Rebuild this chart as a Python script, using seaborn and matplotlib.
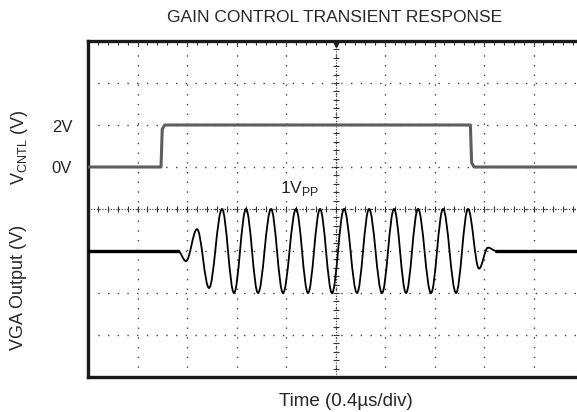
import numpy as np
import pandas as pd
import matplotlib
matplotlib.use('Agg')
import matplotlib.pyplot as plt
from matplotlib.path import Path
from matplotlib.patches import PathPatch
import seaborn as sns

# scope traces (time in us, level in volts)
vcntl_t = [0.0, 0.59, 0.60, 0.62, 3.09, 3.10, 3.12, 4.0]
vcntl_v = [0.0, 0.0, 1.80, 2.0, 2.0, 0.20, 0.0, 0.0]

vga_t = [0.727, 0.792, 0.881, 0.978, 1.083, 1.180, 1.277, 1.374, 1.479, 1.576,
         1.681, 1.778, 1.875, 1.972, 2.069, 2.174, 2.271, 2.376, 2.473, 2.570,
         2.667, 2.772, 2.869, 2.974, 3.071, 3.160, 3.232, 3.300]
vga_v = [0.0, -0.12, 0.26, -0.44, 0.50, -0.50, 0.50, -0.50, 0.50, -0.50,
         0.50, -0.50, 0.50, -0.50, 0.50, -0.50, 0.50, -0.50, 0.50, -0.50,
         0.50, -0.50, 0.50, -0.50, 0.50, -0.21, 0.04, 0.0]

base_left_t = [0.0, 0.727]
base_right_t = [3.30, 4.0]

# screen offsets: VCNTL 2V/div centred +1 div, VGA 0.5V/div centred -1 div
vcntl_off, vcntl_scale = 1.0, 2.0
vga_off, vga_scale = -1.0, 0.5

sns.set_style('white')
plt.rcParams['font.family'] = ['Liberation Sans', 'DejaVu Sans']

fig = plt.figure(figsize=(5.77, 4.12), dpi=100)
ax = fig.add_axes([88/577, 1-377/412, (583-88)/577, (377-41)/412])

df_c = pd.DataFrame({'t': vcntl_t, 'y': [vcntl_off + v/vcntl_scale for v in vcntl_v]})
sns.lineplot(data=df_c, x='t', y='y', ax=ax, color='#5e5e5e', lw=2.2, sort=False, zorder=4)

for bt in (base_left_t, base_right_t):
    df_b = pd.DataFrame({'t': bt, 'y': [vga_off]*2})
    sns.lineplot(data=df_b, x='t', y='y', ax=ax, color='black', lw=2.4, zorder=4)

# smooth half-cycles between the read extrema
k = 0.363
verts = [(vga_t[0], vga_off + vga_v[0]/vga_scale)]
codes = [Path.MOVETO]
for i in range(1, len(vga_t)):
    t0, t1 = vga_t[i-1], vga_t[i]
    y0 = vga_off + vga_v[i-1]/vga_scale
    y1 = vga_off + vga_v[i]/vga_scale
    dt = t1 - t0
    verts += [(t0 + k*dt, y0), (t1 - k*dt, y1), (t1, y1)]
    codes += [Path.CURVE4]*3
ax.add_patch(PathPatch(Path(verts, codes), fill=False, ec='black', lw=1.3, zorder=5))

ax.set_xlim(0, 4.0)
ax.set_ylim(-4, 4)
ax.set_xticks(np.arange(0, 4.01, 0.4))
ax.set_yticks(np.arange(-4, 4.01, 1))
ax.set_xticks(np.arange(0, 4.01, 0.08), minor=True)
ax.set_yticks(np.arange(-4, 4.01, 0.2), minor=True)
ax.tick_params(which='both', direction='in', length=3, width=0.8, color='#333333',
               top=True, right=True, labelbottom=False, labelleft=False)
ax.grid(True, which='major', color='#444444', lw=1.0, ls=(0, (1, 6)))
ax.set_xlabel('')
ax.set_ylabel('')
for s in ('left', 'top', 'bottom'):
    ax.spines[s].set_linewidth(2.4)
    ax.spines[s].set_color('#1a1a1a')
ax.spines['right'].set_visible(False)

# centre graticule with small ticks
ax.axhline(0, color='#333333', lw=0.8, ls=(0, (1, 1.5)), zorder=2)
ax.axvline(2.0, color='#333333', lw=0.8, ls=(0, (1, 1.5)), zorder=2)
ax.plot(np.arange(0, 4.01, 0.08), np.zeros(51), ls='none', marker='|', ms=4,
        mew=0.8, color='#333333', zorder=2)
ax.plot(np.full(41, 2.0), np.arange(-4, 4.01, 0.2), ls='none', marker='_', ms=4,
        mew=0.8, color='#333333', zorder=2)
ax.plot([2.0], [3.94], marker='v', ms=5, color='#1a1a1a', clip_on=False, zorder=6)

fig.text(335/577, 1-18/412, 'GAIN CONTROL TRANSIENT RESPONSE', ha='center', va='center', fontsize=12.5)
fig.text(346/577, 1-401/412, 'Time (0.4\u00b5s/div)', ha='center', va='center', fontsize=13.5)
fig.text(19/577, 1-147/412, r'V$_{\mathregular{CNTL}}$ (V)', rotation=90, ha='center', va='center', fontsize=13)
fig.text(19/577, 1-287/412, 'VGA Output (V)', rotation=90, ha='center', va='center', fontsize=13)
fig.text(62/577, 1-127/412, '2V', ha='center', va='center', fontsize=12)
fig.text(62/577, 1-168/412, '0V', ha='center', va='center', fontsize=12)
fig.text(280/577, 1-188/412, r'1V$_{\mathregular{PP}}$', ha='left', va='center', fontsize=12.5)

fig.savefig('out.png', dpi=100)
